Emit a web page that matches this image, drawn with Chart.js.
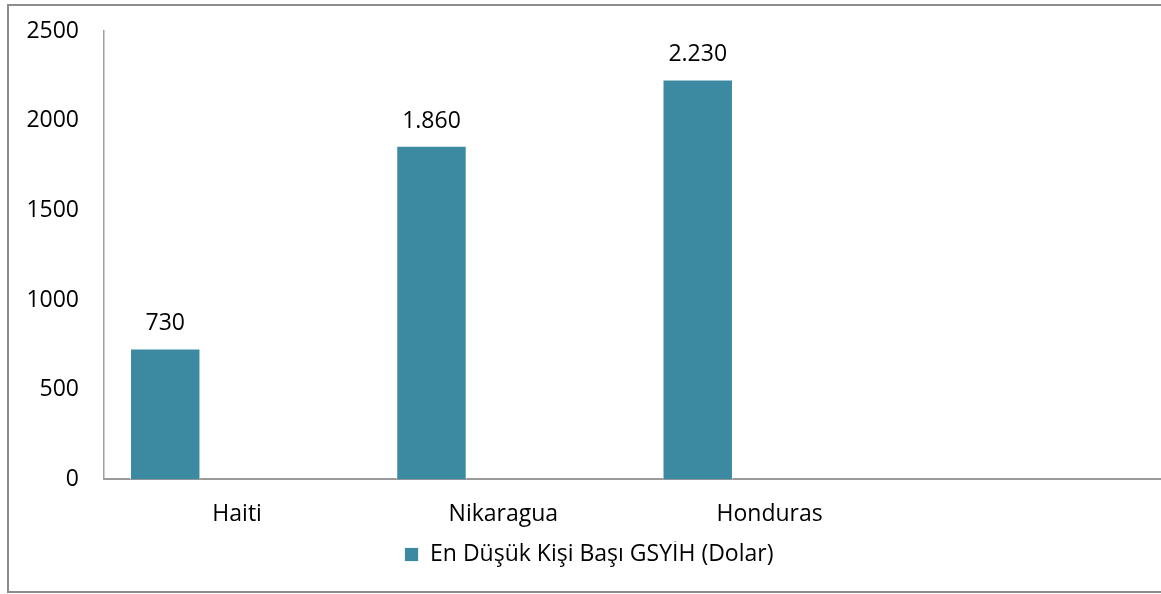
<!DOCTYPE html>
<html>
<head>
<meta charset="utf-8">
<script src="https://cdn.jsdelivr.net/npm/chart.js@4"></script>
<style>
  html, body { margin: 0; padding: 0; background: #fff; overflow: hidden; }
  #frame {
    position: absolute; left: 7px; top: 4px;
    width: 1200px; height: 585px;
    border: 2px solid #8c8c8c;
    border-right: none;
  }
  #c { position: absolute; left: 9px; top: 6px; }
</style>
</head>
<body>
<div id="frame"></div>
<canvas id="c" width="1160" height="585"></canvas>
<script>
"use strict";

// chart values
var countries = ['Haiti', 'Nikaragua', 'Honduras', ''];
var gdpValues = [730, 1860, 2230, null];
var emptySeries = [null, null, null, null];
var yTicks = [0, 500, 1000, 1500, 2000, 2500];
var seriesName = 'En Düşük Kişi Başı GSYİH (Dolar)';

var barColor = '#3c8aa2';
var fontFamily = "'Open Sans', sans-serif";

// turkish style thousands separator: 1860 -> 1.860
function formatTr(v) {
    return String(v).replace(/\B(?=(\d{3})+(?!\d))/g, '.');
}

var valueLabels = {
    id: 'valueLabels',
    afterDatasetsDraw: function (chart) {
        var ctx = chart.ctx;
        var meta = chart.getDatasetMeta(0);
        ctx.save();
        ctx.font = '23px ' + fontFamily;
        ctx.fillStyle = '#000';
        ctx.textAlign = 'center';
        ctx.textBaseline = 'alphabetic';
        meta.data.forEach(function (bar, i) {
            var v = gdpValues[i];
            if (v == null) return;
            ctx.fillText(formatTr(v), bar.x, bar.y - 18);
        });
        ctx.restore();
    }
};

var ctx = document.getElementById('c').getContext('2d');
var gdpChart = new Chart(ctx, {
    type: 'bar',
    data: {
        labels: countries,
        datasets: [{
            label: seriesName,
            data: gdpValues,
            backgroundColor: barColor,
            borderColor: 'rgba(255,255,255,0.8)',
            borderWidth: 1,
            categoryPercentage: 1.08,
            barPercentage: 0.49
        }, {
            label: '',
            data: emptySeries,
            backgroundColor: barColor,
            categoryPercentage: 1.08,
            barPercentage: 0.49
        }]
    },
    options: {
        responsive: false,
        animation: false,
        layout: {
            padding: { top: 25, left: 0, right: 0, bottom: 15 }
        },
        scales: {
            x: {
                grid: { display: false },
                border: { display: true, color: '#9a9a9a', width: 2 },
                ticks: {
                    color: '#000',
                    font: { family: fontFamily, size: 23 },
                    padding: 13,
                    maxRotation: 0
                }
            },
            y: {
                min: 0,
                max: 2500,
                afterBuildTicks: function (axis) {
                    axis.ticks = yTicks.map(function (v) { return { value: v }; });
                },
                afterFit: function (axis) {
                    axis.width = 95;
                    axis.paddingTop = 0;
                    axis.paddingBottom = 0;
                },
                grid: { display: false, drawTicks: false },
                border: { display: true, color: '#a0a0a0', width: 1.5 },
                ticks: {
                    color: '#000',
                    font: { family: fontFamily, size: 23 },
                    padding: 25,
                    callback: function (v) { return String(v); }
                }
            }
        },
        plugins: {
            legend: {
                position: 'bottom',
                labels: {
                    color: '#000',
                    font: { family: fontFamily, size: 23 },
                    boxWidth: 14,
                    boxHeight: 14,
                    padding: 2,
                    filter: function (item) { return item.text !== ''; }
                }
            },
            tooltip: { enabled: false },
            title: { display: false }
        }
    },
    plugins: [valueLabels]
});
</script>
</body>
</html>
